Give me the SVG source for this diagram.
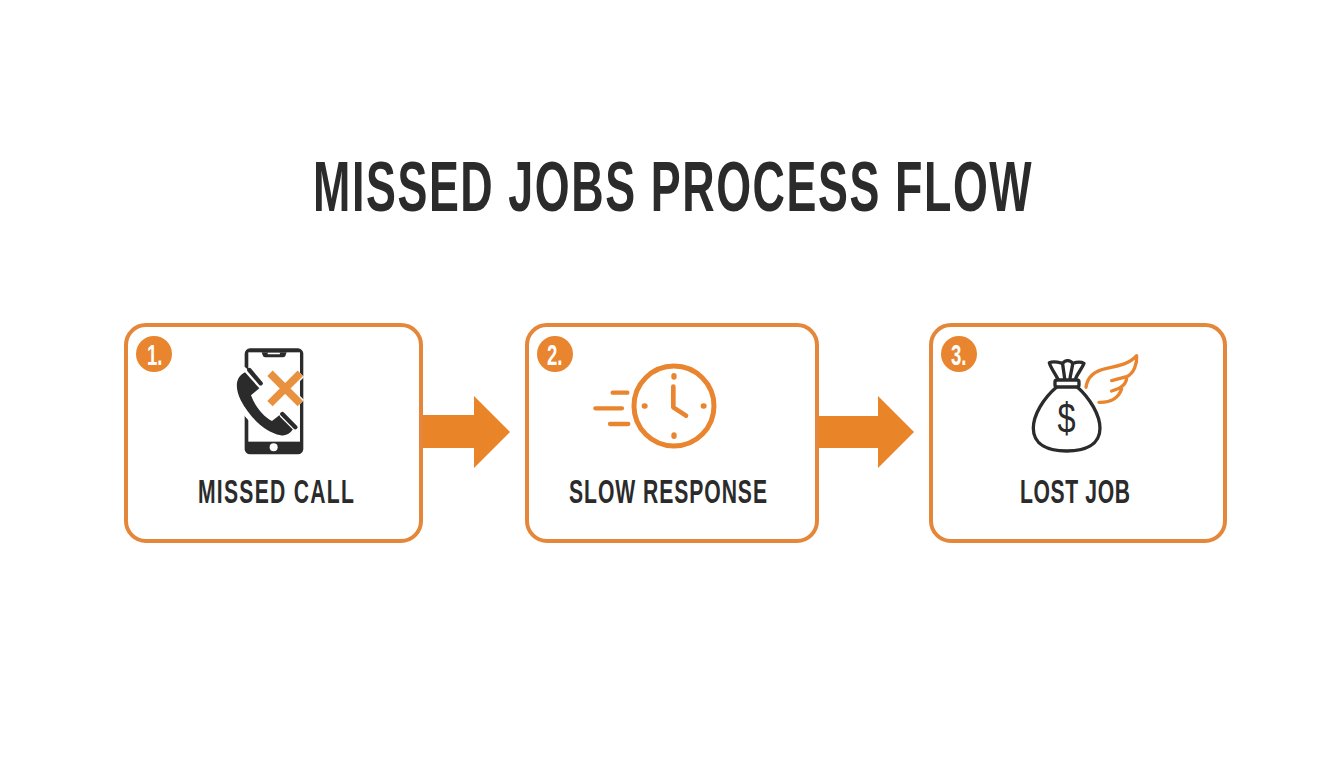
<svg xmlns="http://www.w3.org/2000/svg" width="1344" height="768" viewBox="0 0 1344 768">
<style>
text{font-family:"Liberation Sans",Arial,sans-serif;font-kerning:none}
.box{fill:#fff;stroke:#e5873a;stroke-width:4}
.lab{font-weight:700;font-size:33px;fill:#2b2b2b}
.title{font-weight:700;font-size:70px;fill:#2b2b2b;letter-spacing:2.5px}
.badge{fill:#e8852e}
.num{font-weight:700;font-size:30px;fill:#fff}
.arrow{fill:#ea8428}
.ol{fill:none;stroke:#e8852e;stroke-linecap:round;stroke-linejoin:round}
.dk{fill:none;stroke:#2b2b2b;stroke-width:10;stroke-linecap:round;stroke-linejoin:round}
</style>
<rect width="1344" height="768" fill="#fff"/>
<text id="title" class="title" transform="translate(313 211) scale(.64 1)">MISSED JOBS PROCESS FLOW</text>
<g id="connectors">
<polygon class="arrow" points="422,415 474,415 474,396 510,432 474,468 474,448 422,448"/>
<polygon class="arrow" points="818,416 878,416 878,396 914,432 878,468 878,448 818,448"/>
</g>
<g id="node1">
<rect class="box" x="126" y="325" width="295" height="216" rx="20"/>
<circle class="badge" cx="154" cy="354" r="18"/>
<text class="num" transform="translate(147 365) scale(.62 1)">1.</text>
<g transform="translate(120 320) scale(.3333)">
<rect x="374" y="85" width="176" height="318" rx="16" fill="#2b2b2b"/>
<rect x="385" y="97" width="155" height="268" fill="#fff"/>
<path d="M425,97H500L496,108Q494,112 488,112H437Q431,112 429,108Z" fill="#2b2b2b"/>
<rect x="443" y="98" width="37" height="5" rx="2" fill="#fff"/>
<circle cx="461" cy="382" r="12" fill="#fff"/>
<path d="M372,150C335,170 335,205 355,245C385,295 430,340 480,352C505,356 525,340 530,325L480,275L455,295C430,282 410,255 400,228L425,205Z" fill="#fff" stroke="#fff" stroke-width="18" stroke-linejoin="round"/>
<path d="M375,157C345,172 345,205 362,240C388,290 432,335 482,346C500,349 512,338 519,328L478,286L456,303C428,288 405,258 393,226L418,205Z" fill="#2b2b2b"/>
<path d="M388,148L424,190M487,282L528,322" stroke="#fff" stroke-width="22"/>
<path d="M388,150L422,190M487,282L526,322" stroke="#2b2b2b" stroke-width="13" stroke-linecap="round"/>
<path d="M450,160L541,251M541,160L450,251" stroke="#fff" stroke-width="32"/>
<path d="M450,160L541,251M541,160L450,251" stroke="#e8913f" stroke-width="23"/>
</g>
<text class="lab" transform="translate(198 503) scale(.64 1)" letter-spacing="2">MISSED CALL</text>
</g>
<g id="node2">
<rect class="box" x="527" y="325" width="290" height="216" rx="20"/>
<circle class="badge" cx="555" cy="354" r="18"/>
<text class="num" transform="translate(547 365) scale(.62 1)">2.</text>
<g transform="translate(525 320) scale(.3333)">
<circle class="ol" cx="447" cy="258" r="120" stroke-width="15"/>
<path class="ol" stroke-width="16" d="M447,167V171M537,258H535M447,349V345M358,258H360"/>
<path class="ol" stroke-width="14" d="M445,200V262L483,287"/>
<path class="ol" stroke-width="13" d="M263,218H307M211,265H291M255,312H310"/>
</g>
<text class="lab" transform="translate(569 503) scale(.64 1)" letter-spacing="1.5">SLOW RESPONSE</text>
</g>
<g id="node3">
<rect class="box" x="931" y="325" width="294" height="216" rx="20"/>
<circle class="badge" cx="959" cy="354" r="18"/>
<text class="num" transform="translate(951 365) scale(.62 1)">3.</text>
<g transform="translate(930 320) scale(.3333)">
<path class="dk" d="M380,201C340,235 310,285 310,325C310,375 355,393 410,393C465,393 510,375 510,325C510,285 480,235 442,201"/>
<rect class="dk" x="375" y="180" width="72" height="21" rx="6"/>
<path class="dk" d="M384,178C376,160 362,145 358,128C372,122 390,128 398,130C405,120 420,118 428,130C440,126 452,124 462,130C455,148 442,160 436,178M398,132C400,148 402,160 404,176M428,132C426,148 422,160 420,176"/>
<path class="ol" stroke-width="10" d="M468,202C472,170 495,152 530,145C570,137 600,130 620,107C622,130 612,160 590,170L545,182M590,172C590,190 575,205 545,213M575,207C565,235 540,248 507,247"/>
<text transform="translate(410 339) scale(.75 1)" text-anchor="middle" font-size="130" fill="#2b2b2b">$</text>
</g>
<text class="lab" transform="translate(1020 503) scale(.64 1)" letter-spacing="1">LOST JOB</text>
</g>
</svg>
